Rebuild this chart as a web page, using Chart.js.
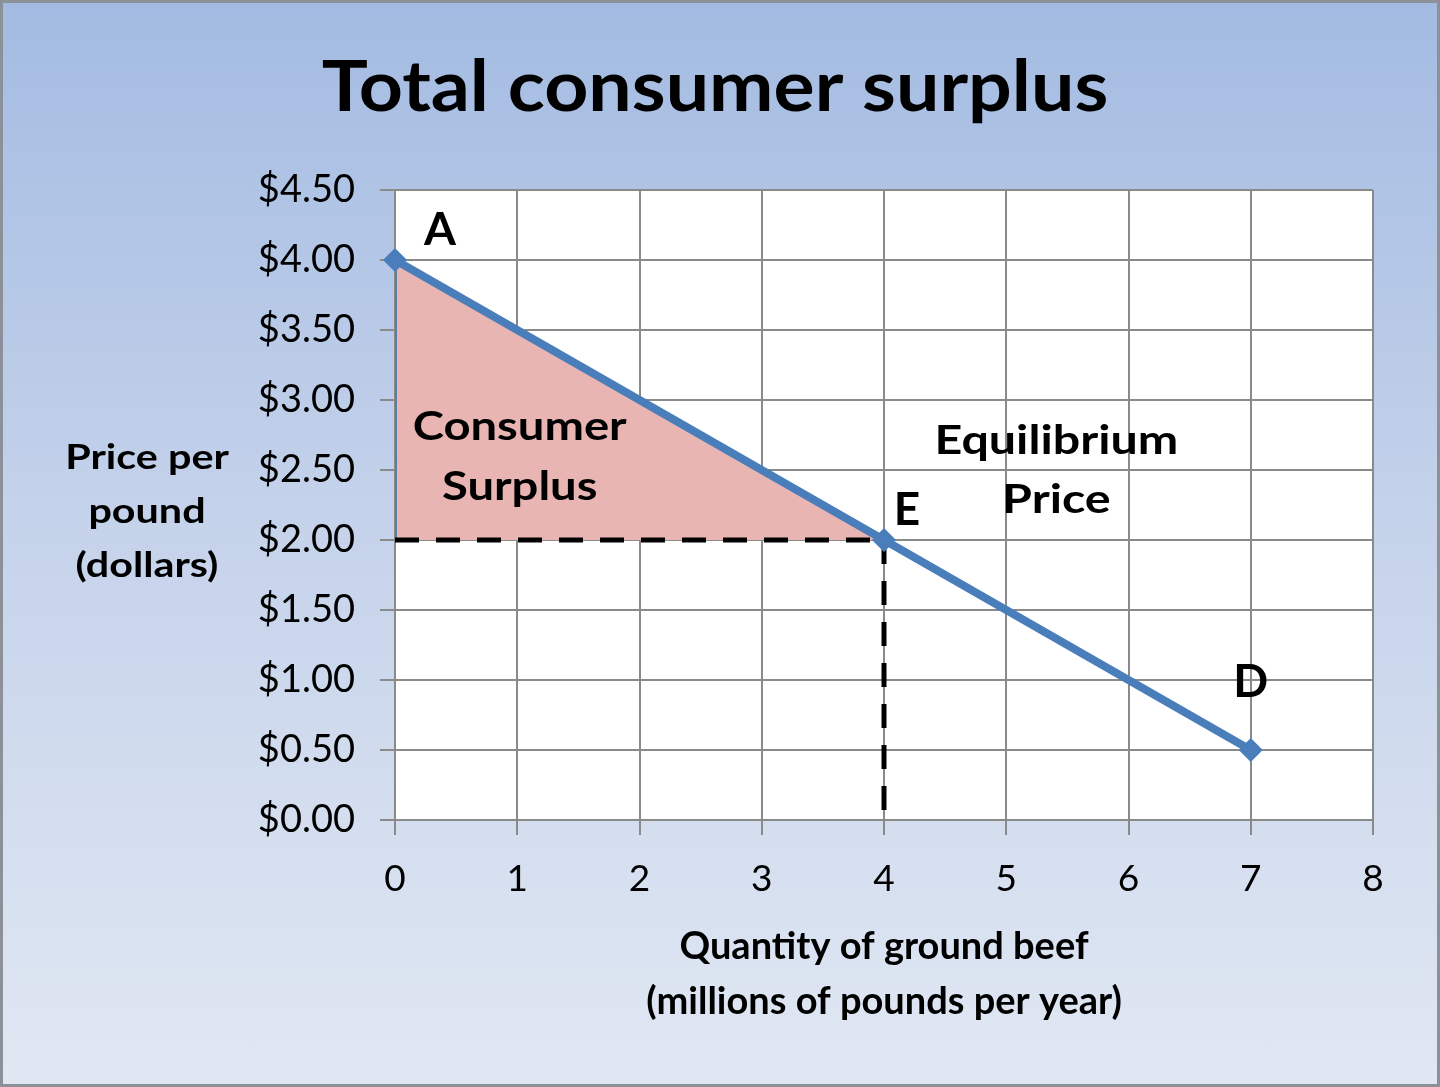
<!DOCTYPE html>
<html>
<head>
<meta charset="utf-8">
<title>Total consumer surplus</title>
<script src="https://cdn.jsdelivr.net/npm/chart.js@4/dist/chart.umd.min.js"></script>
<style>
  html, body { margin: 0; padding: 0; }
  #wrap {
    position: relative; width: 1440px; height: 1087px;
    background: linear-gradient(180deg, #a3bbe2 0%, #c3d1ea 45%, #e1e8f3 100%);
    box-shadow: inset 0 0 0 3px #8b9099;
  }
  canvas { position: absolute; left: 0; top: 0; }
</style>
</head>
<body>
<div id="wrap"><canvas id="chart" width="1440" height="1087"></canvas></div>
<script>
// demand curve points
const demandQty = [0, 4, 7];
const demandPrice = [4, 2, 0.5];
const pointNames = ['A', 'E', 'D'];

// equilibrium
const eqQty = 4;
const eqPrice = 2;

// consumer surplus triangle
const surplusQty = [0, 0, 4];
const surplusPrice = [2, 4, 2];

// axis ranges
const xMax = 8;
const yMax = 4.5;
const yStep = 0.5;

const FONT = 'Lato, "Open Sans", sans-serif';

function pts(xs, ys) {
  return xs.map((x, i) => ({ x: x, y: ys[i] }));
}

// text stretched a little sideways, like the original's wide type
function wideText(ctx, t, x, y, sx) {
  ctx.save();
  ctx.translate(x, y);
  ctx.scale(sx, 1);
  ctx.fillText(t, 0, 0);
  ctx.restore();
}

const labelPlugin = {
  id: 'labels',
  afterDatasetsDraw(chart) {
    const ctx = chart.ctx;
    const xs = chart.scales.x, ys = chart.scales.y;
    const area = chart.chartArea;
    ctx.save();
    ctx.fillStyle = '#000';
    ctx.textAlign = 'center';
    ctx.textBaseline = 'middle';

    // title
    ctx.font = 'bold 70px ' + FONT;
    wideText(ctx, 'Total consumer surplus', chart.width / 2 - 5, 88, 1.1);

    // y axis title, three horizontal lines
    ctx.font = 'bold 35px ' + FONT;
    const yc = ys.getPixelForValue(2.2);
    ['Price per', 'pound', '(dollars)'].forEach((t, i) => {
      wideText(ctx, t, area.left - 248, yc + (i - 1) * 54, 1.18);
    });

    // point letters
    ctx.font = 'bold 46px ' + FONT;
    const offs = [[45, -30], [23, -30], [0, -68]];
    pointNames.forEach((n, i) => {
      const px = xs.getPixelForValue(demandQty[i]);
      const py = ys.getPixelForValue(demandPrice[i]);
      ctx.fillText(n, px + offs[i][0], py + offs[i][1]);
    });

    // region labels
    ctx.font = 'bold 41px ' + FONT;
    wideText(ctx, 'Consumer', xs.getPixelForValue(1.02), ys.getPixelForValue(2.81), 1.15);
    wideText(ctx, 'Surplus', xs.getPixelForValue(1.02), ys.getPixelForValue(2.38), 1.15);
    wideText(ctx, 'Equilibrium', xs.getPixelForValue(5.41), ys.getPixelForValue(2.71), 1.18);
    wideText(ctx, 'Price', xs.getPixelForValue(5.41), ys.getPixelForValue(2.29), 1.18);
    ctx.restore();
  }
};

// white plot background
const plotBg = {
  id: 'plotBg',
  beforeDraw(chart) {
    const a = chart.chartArea;
    chart.ctx.save();
    chart.ctx.fillStyle = '#ffffff';
    chart.ctx.fillRect(a.left, a.top, a.right - a.left, a.bottom - a.top);
    chart.ctx.restore();
  }
};

const gridColor = '#8a8a8a';
const blue = '#4a7ebb';

new Chart(document.getElementById('chart'), {
  type: 'scatter',
  data: {
    datasets: [
      {
        label: 'Demand',
        data: pts(demandQty, demandPrice),
        showLine: true,
        borderColor: blue,
        borderWidth: 8,
        backgroundColor: blue,
        pointStyle: 'rectRot',
        pointRadius: 12,
        pointBorderWidth: 0,
        pointBackgroundColor: blue,
        clip: false,
        order: 0
      },
      {
        label: 'Equilibrium price',
        data: [{ x: 0, y: eqPrice }, { x: eqQty, y: eqPrice }],
        showLine: true,
        borderColor: '#000',
        borderWidth: 5,
        borderDash: [24, 17],
        pointRadius: 0,
        order: 1
      },
      {
        label: 'Equilibrium quantity',
        data: [{ x: eqQty, y: eqPrice }, { x: eqQty, y: 0 }],
        showLine: true,
        borderColor: '#000',
        borderWidth: 5,
        borderDash: [24, 17],
        pointRadius: 0,
        order: 1
      },
      {
        label: 'Consumer surplus',
        data: pts(surplusQty, surplusPrice),
        showLine: true,
        borderColor: '#5a7fa3',
        borderWidth: 4,
        backgroundColor: '#e8b5b3',
        fill: { value: eqPrice },
        pointRadius: 0,
        order: 2
      }
    ]
  },
  options: {
    responsive: false,
    animation: false,
    devicePixelRatio: 1,
    layout: { padding: { left: 0, right: 67, top: 190, bottom: 0 } },
    plugins: {
      legend: { display: false },
      tooltip: { enabled: false },
      title: { display: false }
    },
    scales: {
      x: {
        type: 'linear',
        min: 0,
        max: xMax,
        ticks: { stepSize: 1, color: '#000', font: { family: FONT, size: 37 }, padding: 22 },
        grid: { color: gridColor, lineWidth: 2, tickLength: 15, drawTicks: true },
        border: { color: gridColor, width: 2 },
        title: {
          display: true,
          text: ['Quantity of ground beef', '(millions of pounds per year)'],
          color: '#000',
          font: { family: FONT, size: 38, weight: 'bold', lineHeight: 1.45 },
          padding: { top: 0, bottom: 58 }
        },
        afterFit(s) { s.height = 267; }
      },
      y: {
        type: 'linear',
        min: 0,
        max: yMax,
        ticks: {
          stepSize: yStep,
          color: '#000',
          font: { family: FONT, size: 38 },
          padding: 25,
          callback: v => '$' + v.toFixed(2)
        },
        grid: { color: gridColor, lineWidth: 2, tickLength: 15, drawTicks: true },
        border: { color: gridColor, width: 2 },
        afterFit(s) { s.width = 395; }
      }
    }
  },
  plugins: [plotBg, labelPlugin]
});
</script>
</body>
</html>
